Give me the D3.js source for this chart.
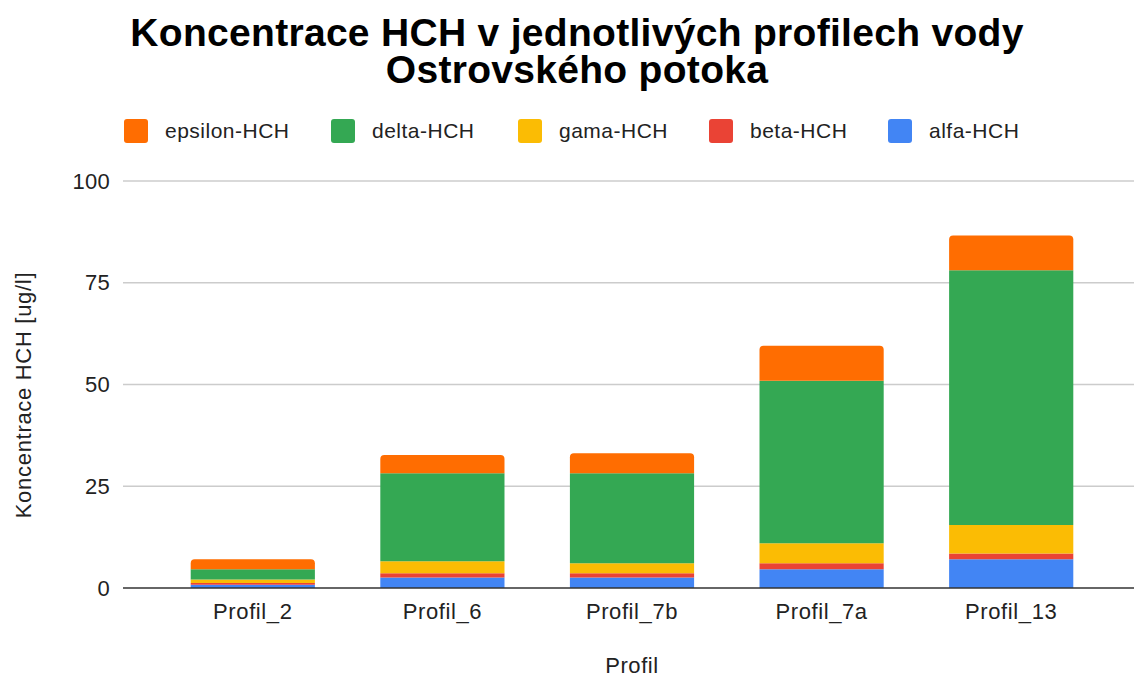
<!DOCTYPE html>
<html>
<head>
<meta charset="utf-8">
<script src="https://cdn.jsdelivr.net/npm/d3@7"></script>
<style>
  body { margin: 0; background: #fff; }
  text { font-family: "Liberation Sans", Arial, sans-serif; }
</style>
</head>
<body>
<svg width="1134" height="679"></svg>
<script>
const profiles = ["Profil_2", "Profil_6", "Profil_7b", "Profil_7a", "Profil_13"];
const alfa    = [0.8, 2.6, 2.6, 4.6, 7.05];
const beta    = [0.4, 1.0, 1.0, 1.5, 1.45];
const gama    = [0.9, 3.0, 2.5, 4.9, 7.0];
const delta   = [2.5, 21.6, 22.1, 39.9, 62.6];
const epsilon = [2.45, 4.5, 4.9, 8.6, 8.5];
const seriesNames = ["alfa-HCH", "beta-HCH", "gama-HCH", "delta-HCH", "epsilon-HCH"];
const seriesColors = ["#4285f4", "#ea4335", "#fbbc04", "#34a853", "#ff6d01"];
const yTicks = [0, 25, 50, 75, 100];

const rows = profiles.map((p, i) => ({
  profil: p,
  "alfa-HCH": alfa[i], "beta-HCH": beta[i], "gama-HCH": gama[i],
  "delta-HCH": delta[i], "epsilon-HCH": epsilon[i]
}));
const stacked = d3.stack().keys(seriesNames)(rows);
const color = d3.scaleOrdinal().domain(seriesNames).range(seriesColors);

const svg = d3.select("svg");

const x = d3.scaleBand().domain(profiles).range([158, 1106]).paddingInner(0.345).paddingOuter(0.1725);
const y = d3.scaleLinear().domain([0, 100]).range([588, 181]);

// gridlines
svg.append("g").selectAll("line")
  .data(yTicks.filter(d => d !== 0))
  .enter().append("line")
  .attr("x1", 123).attr("x2", 1134)
  .attr("y1", d => y(d)).attr("y2", d => y(d))
  .attr("stroke", "#ccc")
  .attr("stroke-width", 1.5);

// y tick labels
svg.append("g").selectAll("text")
  .data(yTicks)
  .enter().append("text")
  .attr("x", 110).attr("y", d => y(d))
  .attr("dy", "0.35em")
  .attr("text-anchor", "end")
  .attr("font-size", 22)
  .attr("letter-spacing", 0.3)
  .attr("fill", "#222")
  .text(d => d);

// bars, top segment gets rounded corners
const r = 4;
const layer = svg.append("g").selectAll("g")
  .data(stacked)
  .enter().append("g")
  .attr("fill", d => color(d.key));

layer.each(function(s, si) {
  d3.select(this).selectAll("path")
    .data(s)
    .enter().append("path")
    .attr("d", d => {
      const x0 = x(d.data.profil), w = x.bandwidth();
      const top = y(d[1]), bot = y(d[0]);
      if (si === stacked.length - 1) {
        return `M${x0},${bot}V${top + r}Q${x0},${top} ${x0 + r},${top}H${x0 + w - r}Q${x0 + w},${top} ${x0 + w},${top + r}V${bot}Z`;
      }
      return `M${x0},${bot}V${top}H${x0 + w}V${bot}Z`;
    });
});

// baseline on top
svg.append("line")
  .attr("x1", 123).attr("x2", 1134)
  .attr("y1", y(0)).attr("y2", y(0))
  .attr("stroke", "#333").attr("stroke-width", 1.5);

// x labels
svg.append("g").selectAll("text")
  .data(profiles)
  .enter().append("text")
  .attr("x", d => x(d) + x.bandwidth() / 2)
  .attr("y", 619)
  .attr("text-anchor", "middle")
  .attr("font-size", 22)
  .attr("letter-spacing", 0.6)
  .attr("fill", "#222")
  .text(d => d);

// axis titles
svg.append("text")
  .attr("x", 632).attr("y", 673)
  .attr("text-anchor", "middle")
  .attr("font-size", 22)
  .attr("letter-spacing", 0.6)
  .attr("fill", "#222")
  .text("Profil");

svg.append("text")
  .attr("transform", "translate(31,395) rotate(-90)")
  .attr("text-anchor", "middle")
  .attr("font-size", 22)
  .attr("letter-spacing", 0.7)
  .attr("fill", "#222")
  .text("Koncentrace HCH [ug/l]");

// title
const title = svg.append("text")
  .attr("text-anchor", "middle")
  .attr("font-size", 39)
  .attr("font-weight", "bold")
  .attr("letter-spacing", 0.3)
  .attr("fill", "#000");
title.append("tspan").attr("x", 577).attr("y", 46).text("Koncentrace HCH v jednotlivých profilech vody");
title.append("tspan").attr("x", 577).attr("y", 83).text("Ostrovského potoka");

// legend
const legendOrder = ["epsilon-HCH", "delta-HCH", "gama-HCH", "beta-HCH", "alfa-HCH"];
const legendX = [124, 331, 518, 709, 888];
const lg = svg.append("g").selectAll("g")
  .data(legendOrder)
  .enter().append("g")
  .attr("transform", (d, i) => `translate(${legendX[i]},119)`);
lg.append("rect")
  .attr("width", 24).attr("height", 24).attr("rx", 3)
  .attr("fill", d => color(d));
lg.append("text")
  .attr("x", 41).attr("y", 12).attr("dy", "0.35em")
  .attr("font-size", 21)
  .attr("letter-spacing", 0.5)
  .attr("fill", "#222")
  .text(d => d);
</script>
</body>
</html>
